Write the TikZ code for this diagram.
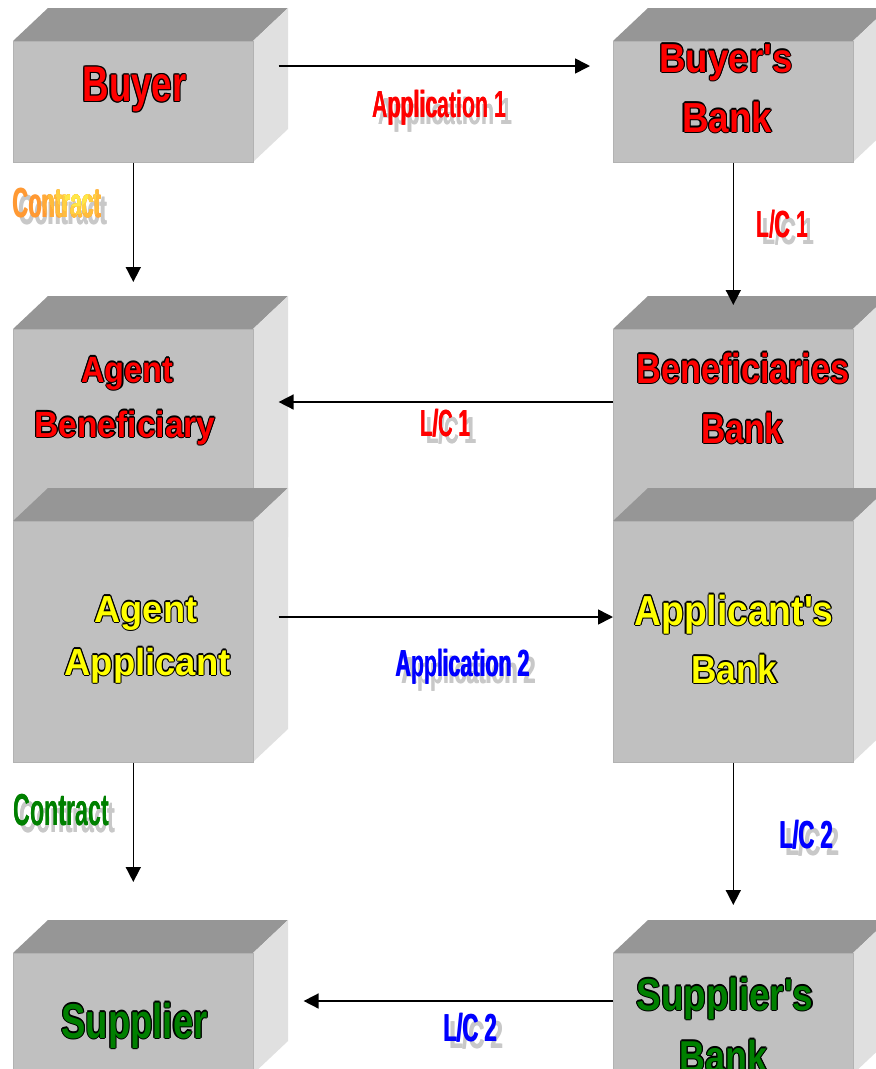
\documentclass[tikz,border=0pt]{standalone}
\usepackage{fontspec}
\setmainfont{Liberation Sans}[Ligatures=TeXOff]
\usepackage{graphicx}
\usetikzlibrary{arrows.meta}

\definecolor{frontgray}{HTML}{C0C0C0}
\definecolor{topgray}{HTML}{969696}
\definecolor{sidegray}{HTML}{E0E0E0}
\definecolor{edgegray}{HTML}{B2B2B2}
\definecolor{shadegray}{HTML}{C8C8C8}
\definecolor{txtred}{HTML}{FF0000}
\definecolor{txtyellow}{HTML}{FFFF00}
\definecolor{txtgreen}{HTML}{008000}
\definecolor{txtblue}{HTML}{0000FF}
\definecolor{orangeA}{HTML}{FF9933}
\definecolor{orangeB}{HTML}{FFE848}

% bold text at a given size, squeezed horizontally
\newcommand\sq[3]{\fontsize{#1}{#1}\selectfont\scalebox{#2}[1]{#3}}

% heavier strokes: a second copy nudged sideways
\newcommand\heavy[1]{\rlap{\kern0.7pt#1}#1}

% coloured text with a thin black outline
\newcommand\outlined[2]{%
  \rlap{\color{black}\kern1.1pt#2}%
  \rlap{\color{black}\kern-1.1pt#2}%
  \rlap{\color{black}\raisebox{1.1pt}{#2}}%
  \rlap{\color{black}\raisebox{-1.1pt}{#2}}%
  \rlap{\color{black}\kern.8pt\raisebox{.8pt}{#2}}%
  \rlap{\color{black}\kern.8pt\raisebox{-.8pt}{#2}}%
  \rlap{\color{black}\kern-.8pt\raisebox{.8pt}{#2}}%
  \rlap{\color{black}\kern-.8pt\raisebox{-.8pt}{#2}}%
  {\color{#1}#2}}

% coloured text with a light grey drop shadow
\newcommand\shadowed[2]{%
  \rlap{\color{shadegray}\kern6pt\raisebox{-7pt}{\heavy{#2}}}{\color{#1}\heavy{#2}}}

\tikzset{
  front/.style={draw=edgegray, line width=0.6pt, fill=frontgray,
                minimum width=240pt, inner sep=0pt},
  topface/.style={fill=topgray},
  sideface/.style={fill=sidegray},
  boxtext/.style={anchor=base, inner sep=0pt, font=\bfseries},
  lbl/.style={anchor=base, inner sep=0pt, font=\bfseries},
  arr/.style={line width=1.6pt, -{Triangle[width=15pt,length=15pt]}},
}

% a 3-D block: top face, right face, then the front face as a named node
\newcommand\cube[4]{%
  \fill[topface] (#2,#3) -- ++(35,-33) -- ++(240,0) -- ++(-35,33) -- cycle;
  \fill[sideface] (#2+240,#3) -- ++(35,-33) -- ++(0,#4) -- ++(-35,33) -- cycle;
  \node[front, minimum height=#4pt, anchor=north west] (#1) at (#2,#3) {};
}

\begin{document}
\begin{tikzpicture}[x=1pt,y=-1pt]
\useasboundingbox (0,0) rectangle (876,1069);
\clip (0,0) rectangle (876,1069);
\fill[white] (0,0) rectangle (876,1069);

% first row
\cube{buyer}{13}{41}{121}
\node[boxtext] (t-buyer) at (134.5,101.5) {\outlined{txtred}{\sq{50}{0.733}{Buyer}}};
\cube{bbank}{613}{41}{121}
\node[boxtext] (t-bbank1) at (726,72) {\outlined{txtred}{\sq{40.5}{0.905}{Buyer's}}};
\node[boxtext] (t-bbank2) at (727,132) {\outlined{txtred}{\sq{42}{0.876}{Bank}}};

% second row
\cube{ben}{13}{329}{241}
\node[boxtext] (t-ben1) at (127.5,382) {\outlined{txtred}{\sq{36.5}{0.89}{Agent}}};
\node[boxtext] (t-ben2) at (125,437) {\outlined{txtred}{\sq{36.5}{0.92}{Beneficiary}}};
\cube{benbank}{613}{329}{241}
\node[boxtext] (t-benbank1) at (743,383) {\outlined{txtred}{\sq{42}{0.814}{Beneficiaries}}};
\node[boxtext] (t-benbank2) at (742.5,443) {\outlined{txtred}{\sq{42}{0.80}{Bank}}};

% third row
\cube{app}{13}{521}{241}
\node[boxtext] (t-app1) at (146,622) {\outlined{txtyellow}{\sq{37.7}{0.96}{Agent}}};
\node[boxtext] (t-app2) at (147.5,675) {\outlined{txtyellow}{\sq{37.7}{0.966}{Applicant}}};
\cube{appbank}{613}{521}{241}
\node[boxtext] (t-appbank1) at (734,625) {\outlined{txtyellow}{\sq{42}{0.886}{Applicant's}}};
\node[boxtext] (t-appbank2) at (734.5,683) {\outlined{txtyellow}{\sq{39.1}{0.90}{Bank}}};

% fourth row
\cube{sup}{13}{953}{121}
\node[boxtext] (t-sup) at (134.5,1038) {\outlined{txtgreen}{\sq{48.9}{0.746}{Supplier}}};
\cube{supbank}{613}{953}{121}
\node[boxtext] (t-supbank1) at (725,1010) {\outlined{txtgreen}{\sq{44.7}{0.825}{Supplier's}}};
\node[boxtext] (t-supbank2) at (723.5,1072) {\outlined{txtgreen}{\sq{44.7}{0.80}{Bank}}};

% connectors
\draw[arr] ([shift={(25,25)}]buyer.north east) -- ([shift={(-23,25)}]bbank.north west);
\draw[arr] (buyer.south) -- ([shift={(0,-47)}]ben.north);
\draw[arr] (bbank.south) -- ([shift={(0,-24)}]benbank.north);
\draw[arr] ([shift={(0,73)}]benbank.north west) -- ([shift={(25,73)}]ben.north east);
\draw[arr] ([shift={(25,96)}]app.north east) -- ([shift={(0,96)}]appbank.north west);
\draw[arr] (app.south) -- ([shift={(0,-71)}]sup.north);
\draw[arr] (appbank.south) -- ([shift={(0,-48)}]supbank.north);
\draw[arr] ([shift={(0,48)}]supbank.north west) -- ([shift={(50,48)}]sup.north east);

% connector labels
\node[lbl] (l-app1) at (439,117) {\shadowed{txtred}{\sq{37.7}{0.565}{Application 1}}};
\node[lbl] (l-lc1a) at (782,237) {\shadowed{txtred}{\sq{37.7}{0.56}{L/C 1}}};
\node[lbl] (l-lc1b) at (445,436) {\shadowed{txtred}{\sq{37.7}{0.54}{L/C 1}}};
\node[lbl] (l-app2) at (462.5,676) {\shadowed{txtblue}{\sq{37.7}{0.565}{Application 2}}};
\node[lbl] (l-lc2a) at (806,848) {\shadowed{txtblue}{\sq{39}{0.56}{L/C 2}}};
\node[lbl] (l-lc2b) at (470,1041) {\shadowed{txtblue}{\sq{39}{0.56}{L/C 2}}};
\node[lbl] (l-con2) at (61,825) {\shadowed{txtgreen}{\sq{44.7}{0.52}{Contract}}};

% orange-to-yellow "Contract": base copy, then lighter copies clipped to rings
\node[lbl] (l-con1) at (57,217) {\shadowed{orangeA}{\sq{42}{0.51}{Contract}}};
\foreach \r/\c in {36/orangeA!78!orangeB, 28/orangeA!55!orangeB, 20/orangeA!30!orangeB, 12/orangeB}{
  \begin{scope}
    \clip (76,194) circle (\r pt);
    \node[lbl, name=l-con1-\r] at (57,217) {\color{\c}\heavy{\sq{42}{0.51}{Contract}}};
  \end{scope}
}
\end{tikzpicture}
\end{document}
